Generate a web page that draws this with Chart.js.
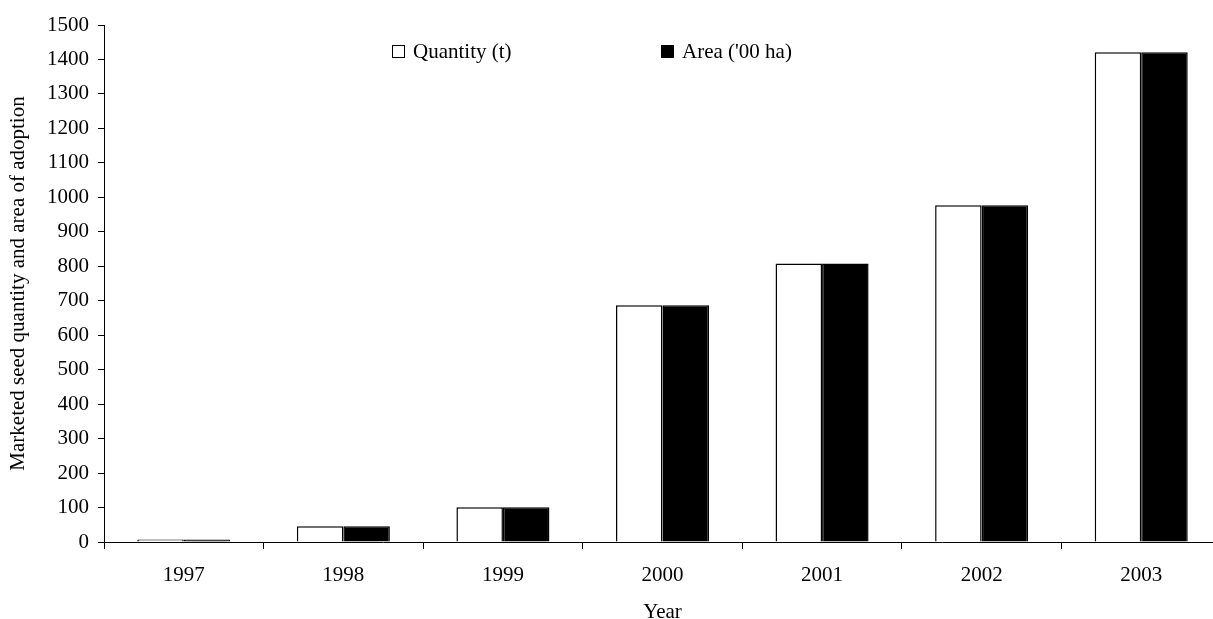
<!DOCTYPE html>
<html>
<head>
<meta charset="utf-8">
<script src="https://cdn.jsdelivr.net/npm/chart.js@4.4.0/dist/chart.umd.min.js"></script>
<style>
  html, body { margin: 0; padding: 0; background: #fff; overflow: hidden; }
  #wrap { width: 1230px; height: 626px; position: relative; }
</style>
</head>
<body>
<div id="wrap"><canvas id="c" width="1230" height="626"></canvas></div>
<script>
const years = ['1997', '1998', '1999', '2000', '2001', '2002', '2003'];
const quantity = [7, 46, 101, 687, 808, 977, 1421];
const area = [7, 46, 101, 687, 808, 977, 1421];
const seriesLabels = ['Quantity (t)', "Area ('00 ha)"];
const yTitle = 'Marketed seed quantity and area of adoption';
const xTitle = 'Year';

const FONT = 'Liberation Serif, Times New Roman, serif';

const legendPlugin = {
  id: 'customLegend',
  afterDraw(chart, args, opts) {
    const ctx = chart.ctx;
    ctx.save();
    ctx.font = '21px ' + FONT;
    ctx.textBaseline = 'alphabetic';
    ctx.textAlign = 'left';
    chart.data.datasets.forEach((ds, i) => {
      const it = opts.items[i];
      ctx.fillStyle = ds.backgroundColor;
      ctx.fillRect(it.x, opts.y, 13, 13);
      ctx.strokeStyle = '#000';
      ctx.lineWidth = 1;
      ctx.strokeRect(it.x + 0.5, opts.y + 0.5, 12, 12);
      ctx.fillStyle = '#000';
      ctx.fillText(ds.label, it.x + 21, opts.y + 13);
    });
    ctx.restore();
  }
};

new Chart(document.getElementById('c'), {
  type: 'bar',
  data: {
    labels: years,
    datasets: [
      { label: seriesLabels[0], data: quantity, backgroundColor: '#ffffff', borderColor: '#000000', borderWidth: 1.5 },
      { label: seriesLabels[1], data: area, backgroundColor: '#000000', borderColor: '#000000', borderWidth: 1.5 }
    ]
  },
  options: {
    responsive: false,
    animation: false,
    devicePixelRatio: 1,
    layout: { padding: { top: 25, right: 9, left: 0, bottom: 0 } },
    datasets: { bar: { categoryPercentage: 0.583, barPercentage: 1.0 } },
    plugins: {
      legend: { display: false },
      tooltip: { enabled: false },
      customLegend: { y: 45, items: [{ x: 392 }, { x: 661 }] }
    },
    scales: {
      x: {
        offset: true,
        grid: { display: true, drawOnChartArea: false, offset: true, color: '#000', tickLength: 7, lineWidth: 1 },
        border: { display: true, color: '#000', width: 1 },
        ticks: { color: '#000', font: { family: FONT, size: 21 }, padding: 14, maxRotation: 0 },
        title: { display: true, text: xTitle, color: '#000', font: { family: FONT, size: 21, lineHeight: 1.0 }, padding: { top: 4, bottom: 3 } },
        afterFit(scale) { scale.height = 84; }
      },
      y: {
        min: 0, max: 1500,
        grid: { display: true, drawOnChartArea: false, color: '#000', tickLength: 6, lineWidth: 1 },
        border: { display: true, color: '#000', width: 1 },
        ticks: { stepSize: 100, color: '#000', font: { family: FONT, size: 21 }, padding: 9,
                 callback: (v) => String(v) },
        title: { display: true, text: yTitle, color: '#000', font: { family: FONT, size: 21 }, padding: { top: 6, bottom: 4 } },
        afterFit(scale) { scale.width = 104; }
      }
    }
  },
  plugins: [legendPlugin]
});
</script>
</body>
</html>
